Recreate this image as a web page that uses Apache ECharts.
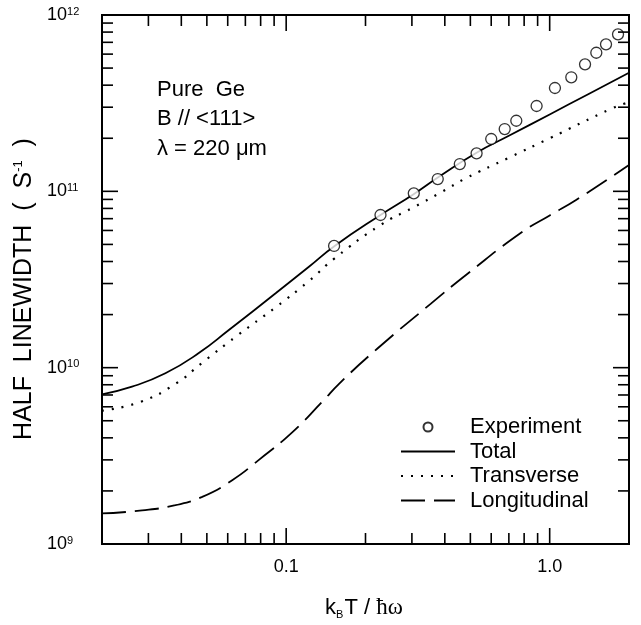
<!DOCTYPE html>
<html>
<head>
<meta charset="utf-8">
<script src="https://cdn.jsdelivr.net/npm/echarts@6/dist/echarts.min.js"></script>
<style>html,body{margin:0;padding:0;background:#fff;}#c{width:641px;height:625px;}</style>
</head>
<body>
<div id="c"></div>
<script>
// ---- data ----
const expX = [0.152, 0.228, 0.305, 0.376, 0.456, 0.528, 0.600, 0.675, 0.747, 0.892, 1.047, 1.208, 1.362, 1.503, 1.636, 1.817];
const expY = [4.90e10, 7.34e10, 9.74e10, 1.174e11, 1.428e11, 1.643e11, 1.981e11, 2.256e11, 2.514e11, 3.047e11, 3.854e11, 4.434e11, 5.25e11, 6.11e11, 6.82e11, 7.77e11];

const totalX = [0.02, 0.026, 0.0348, 0.0466, 0.0606, 0.0912, 0.122, 0.1527, 0.228, 0.3035, 0.38, 0.528, 0.7, 1.0, 1.4, 2.0];
const totalY = [7.06e9, 7.80e9, 9.29e9, 1.21e10, 1.634e10, 2.64e10, 3.736e10, 4.9e10, 7.34e10, 9.6e10, 1.21e11, 1.656e11, 2.065e11, 2.73e11, 3.555e11, 4.7e11];

const transX = [0.02, 0.028, 0.038, 0.048, 0.0652, 0.0912, 0.122, 0.1527, 0.228, 0.3035, 0.391, 0.48, 0.7, 1.0, 1.729, 2.0];
const transY = [5.7e9, 6.40e9, 8.1e9, 1.066e10, 1.52e10, 2.2e10, 3.1e10, 4.17e10, 6.44e10, 8.1e10, 9.95e10, 1.185e11, 1.551e11, 2.0e11, 2.957e11, 3.2e11];

const longX = [0.02, 0.0284, 0.038, 0.048, 0.0624, 0.0788, 0.1054, 0.137, 0.1587, 0.2215, 0.3533, 0.4866, 0.776, 1.0, 1.255, 2.0];
const longY = [1.49e9, 1.55e9, 1.66e9, 1.85e9, 2.3e9, 3.0e9, 4.3e9, 6.4e9, 8.1e9, 1.28e10, 2.3e10, 3.4e10, 5.8e10, 7.3e10, 8.9e10, 1.41e11];

const seriesNames = ['Experiment', 'Total', 'Transverse', 'Longitudinal'];

// axis ranges and tick values
const X_MIN = 0.02, X_MAX = 2.0, Y_MIN = 1e9, Y_MAX = 1e12;
const xMajorTicks = [0.1, 1.0];
const xMinorTicks = [0.03, 0.04, 0.05, 0.06, 0.07, 0.08, 0.09, 0.2, 0.3, 0.4, 0.5, 0.6, 0.7, 0.8, 0.9];
const yMajorTicks = [1e10, 1e11];
const yMinorTicks = [2e9, 3e9, 4e9, 5e9, 6e9, 7e9, 8e9, 9e9, 2e10, 3e10, 4e10, 5e10, 6e10, 7e10, 8e10, 9e10, 2e11, 3e11, 4e11, 5e11, 6e11, 7e11, 8e11, 9e11];

const FONT = '"Liberation Sans", Arial, Helvetica, sans-serif';
const zip = (xs, ys) => xs.map((x, i) => [x, ys[i]]);

const xTickData = xMajorTicks.map(v => [v, Y_MIN, 1]).concat(xMinorTicks.map(v => [v, Y_MIN, 0]));
const yTickData = yMajorTicks.map(v => [X_MIN, v, 1]).concat(yMinorTicks.map(v => [X_MIN, v, 0]));

function tickLine(x1, y1, x2, y2) {
  return { type: 'line', shape: { x1, y1, x2, y2 }, style: { stroke: '#000', lineWidth: 1.6 } };
}
function renderXTick(params, api) {
  const v = api.value(0), len = api.value(2) ? 16 : 11;
  const b = api.coord([v, Y_MIN]), t = api.coord([v, Y_MAX]);
  return { type: 'group', children: [tickLine(b[0], b[1], b[0], b[1] - len), tickLine(t[0], t[1], t[0], t[1] + len)] };
}
function renderYTick(params, api) {
  const v = api.value(1), len = api.value(2) ? 16 : 11;
  const l = api.coord([X_MIN, v]), r = api.coord([X_MAX, v]);
  return { type: 'group', children: [tickLine(l[0], l[1], l[0] + len, l[1]), tickLine(r[0], r[1], r[0] - len, r[1])] };
}

const hiddenSym = { color: 'transparent', borderColor: 'transparent', opacity: 0 };

const chart = echarts.init(document.getElementById('c'), null, { renderer: 'canvas' });
chart.setOption({
  backgroundColor: '#fff',
  animation: false,
  textStyle: { fontFamily: FONT, color: '#000' },
  grid: { left: 102, right: 12, top: 15, bottom: 81, show: true, borderColor: '#000', borderWidth: 2, backgroundColor: 'transparent' },
  xAxis: {
    type: 'log', logBase: 10, min: X_MIN, max: X_MAX,
    axisLine: { show: false }, axisTick: { show: false }, splitLine: { show: false },
    axisLabel: {
      margin: 14, fontSize: 18, color: '#000', fontFamily: FONT,
      formatter: v => { const l = Math.log10(v); return Math.abs(l - Math.round(l)) < 1e-6 ? v.toFixed(1) : ''; }
    }
  },
  yAxis: {
    type: 'log', logBase: 10, min: Y_MIN, max: Y_MAX,
    axisLine: { show: false }, axisTick: { show: false }, splitLine: { show: false },
    axisLabel: {
      align: 'left', margin: 55, color: '#000', fontFamily: FONT,
      formatter: v => '{b|10}{s|' + Math.round(Math.log10(v)) + '}',
      rich: {
        b: { fontSize: 18, lineHeight: 18, fontFamily: FONT, color: '#000' },
        s: { fontSize: 11, lineHeight: 11, verticalAlign: 'top', fontFamily: FONT, color: '#000' }
      }
    }
  },
  legend: {
    data: [
      { name: 'Experiment' },
      { name: 'Total', itemStyle: hiddenSym },
      { name: 'Transverse', itemStyle: hiddenSym },
      { name: 'Longitudinal', itemStyle: hiddenSym }
    ],
    orient: 'vertical', left: 395, top: 410,
    itemWidth: 54, itemHeight: 9, itemGap: 0.5,
    textStyle: { fontSize: 22, lineHeight: 24, color: '#000', fontFamily: FONT, padding: [0, 0, 0, 10] },
    selectedMode: false
  },
  graphic: [
    { type: 'text', x: 24, y: 289, rotation: Math.PI / 2, silent: true,
      style: { text: '{a|HALF  LINEWIDTH  (  S}{s|-1}{a|  )}', align: 'center', verticalAlign: 'middle',
        rich: { a: { fontSize: 25, lineHeight: 25, fontFamily: FONT, fill: '#000' },
                s: { fontSize: 13, lineHeight: 13, verticalAlign: 'top', fontFamily: FONT, fill: '#000' } } } },
    { type: 'text', x: 364, y: 608, silent: true,
      style: { text: '{a|k}{sub|B}{a|T / }{g|ħω}', align: 'center', verticalAlign: 'middle',
        rich: { a: { fontSize: 22, lineHeight: 24, fontFamily: FONT, fill: '#000' },
                sub: { fontSize: 11, lineHeight: 24, verticalAlign: 'bottom', fontFamily: FONT, fill: '#000', padding: [0, 1, 0, 0] },
                g: { fontSize: 23, lineHeight: 24, fontFamily: '"Liberation Serif", "Times New Roman", serif', fill: '#000' } } } },
    { type: 'text', x: 157, y: 90, silent: true, style: { text: 'Pure  Ge', font: '22px ' + FONT, fill: '#000', verticalAlign: 'middle' } },
    { type: 'text', x: 157, y: 119, silent: true, style: { text: 'B // <111>', font: '22px ' + FONT, fill: '#000', verticalAlign: 'middle' } },
    { type: 'text', x: 157, y: 149, silent: true, style: { text: 'λ = 220 μm', font: '22px ' + FONT, fill: '#000', verticalAlign: 'middle' } }
  ],
  series: [
    { name: 'Experiment', type: 'scatter', data: zip(expX, expY), symbol: 'circle', symbolSize: 11, z: 5,
      itemStyle: { color: '#fff', borderColor: '#000', borderWidth: 1.3 } },
    { name: 'Total', type: 'line', data: zip(totalX, totalY), showSymbol: false, symbol: 'none', smooth: 0.5, z: 3,
      lineStyle: { color: '#000', width: 1.8, type: 'solid' }, itemStyle: hiddenSym },
    { name: 'Transverse', type: 'line', data: zip(transX, transY), showSymbol: false, symbol: 'none', smooth: 0.5, z: 3,
      lineStyle: { color: '#000', width: 2.2, type: [2, 8], cap: 'butt' }, itemStyle: hiddenSym },
    { name: 'Longitudinal', type: 'line', data: zip(longX, longY), showSymbol: false, symbol: 'none', smooth: 0.5, z: 3,
      lineStyle: { color: '#000', width: 1.8, type: [24, 9] }, itemStyle: hiddenSym },
    { type: 'custom', data: xTickData, renderItem: renderXTick, clip: false, silent: true, z: 6, encode: { x: 0, y: 1 } },
    { type: 'custom', data: yTickData, renderItem: renderYTick, clip: false, silent: true, z: 6, encode: { x: 0, y: 1 } }
  ]
});
</script>
</body>
</html>
